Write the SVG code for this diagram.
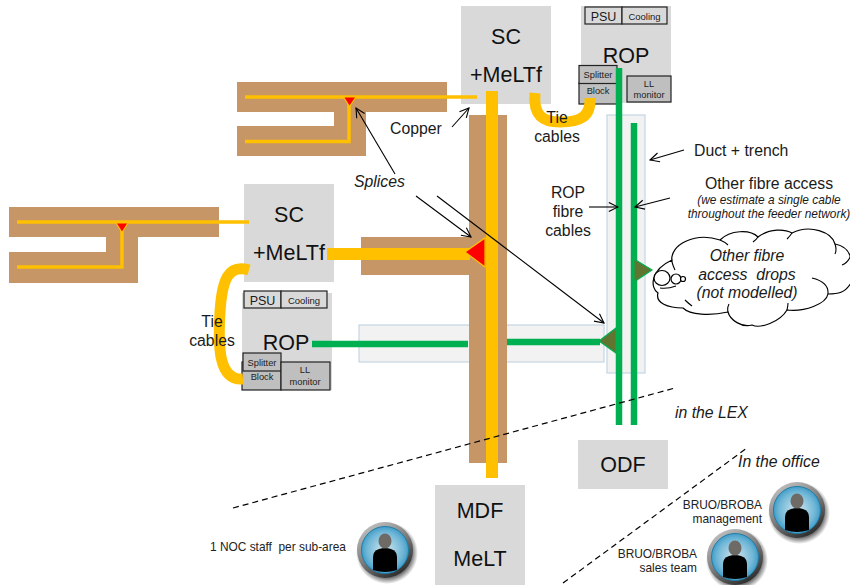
<svg xmlns="http://www.w3.org/2000/svg" width="850" height="585" viewBox="0 0 850 585">
<style>
text{font-family:"Liberation Sans",Arial,sans-serif;fill:#1a1a1a}
.l{font-size:15.8px}.i{font-style:italic}.c{text-anchor:middle}.e{text-anchor:end}
.big{font-size:21.5px;text-anchor:middle;fill:#111}
.s{font-size:11.9px;fill:#222}
.n{font-size:11.9px}
.box{fill:#d9d9d9}
.cu{fill:#c69667}
.of{fill:none;stroke:#ffc000;stroke-width:3.5}
.tie{fill:none;stroke:#ffc000;stroke-width:11}
.gr{stroke:#00b050;stroke-width:6.5;fill:none}
.duct{fill:#f2f2f2;stroke:#c5d5e3;stroke-width:1.2}
.part{fill:#bfbfbf;stroke:#222;stroke-width:1.2}
.pt{fill:#d9d9d9}
.ptxt{font-size:9.3px;text-anchor:middle;fill:#222}
.arr{stroke:#000;stroke-width:1.1;fill:none;marker-end:url(#open)}
.dash{stroke:#000;stroke-width:1.2;fill:none;stroke-dasharray:6 4}
.red{fill:#ff0000;stroke:#ffc000;stroke-width:1.2}
.ol{fill:#5f7530;stroke:#00b050;stroke-width:1.2}
.cl{fill:#fff;stroke:#000;stroke-width:1.2}
</style>
<defs>
<marker id="open" viewBox="0 0 12 12" refX="11" refY="6" markerWidth="11" markerHeight="11" markerUnits="userSpaceOnUse" orient="auto"><path d="M1 1L11 6L1 11" fill="none" stroke="#000" stroke-width="1.2"/></marker>
<linearGradient id="ring" x1="0.2" y1="0" x2="0.8" y2="1"><stop offset="0" stop-color="#c4c4c4"/><stop offset=".5" stop-color="#7a7a7a"/><stop offset="1" stop-color="#222"/></linearGradient>
<radialGradient id="face" cx=".5" cy=".5" r=".55"><stop offset="0" stop-color="#d5e8f0"/><stop offset=".7" stop-color="#6fb6d6"/><stop offset="1" stop-color="#2f93c4"/></radialGradient>
<radialGradient id="sh" cx=".5" cy=".5" r=".5"><stop offset=".8" stop-color="#000" stop-opacity=".55"/><stop offset="1" stop-color="#000" stop-opacity="0"/></radialGradient>
<g id="person">
<circle cx="2" cy="3" r="31" fill="url(#sh)"/>
<circle r="28" fill="url(#ring)"/>
<circle r="23.5" fill="url(#face)" stroke="#1f7fa8" stroke-width="1"/>
<path d="M-12 20V7Q-12 1-6 -1Q0 -3 6 -1Q12 1 12 7V20Q0 24 -12 20Z" fill="#000"/>
<ellipse cx="0" cy="-9" rx="6.5" ry="7.5" fill="#6e6a66"/>
</g>
</defs>

<g id="cable-top">
<path class="cu" d="M237 82H447V112H366V156H237V126H334V112H237Z"/>
</g>
<g id="cable-left">
<path class="cu" d="M9 207H219V237H138V283H9V252H106V237H9Z"/>
</g>
<g id="duct-v"><rect class="duct" x="607" y="115" width="38" height="258"/></g>
<g id="duct-h"><rect class="duct" x="359" y="325" width="245" height="37"/></g>
<g id="trunk">
<rect class="cu" x="469" y="115" width="38" height="348"/>
<rect class="cu" x="361" y="237" width="109" height="38"/>
</g>

<g id="sc-top"><rect class="box" x="461" y="6" width="90" height="98"/><text class="big" x="506" y="44">SC</text><text class="big" x="506" y="82">+MeLTf</text></g>
<g id="sc-left"><rect class="box" x="244" y="184" width="90" height="98"/><text class="big" x="289" y="222">SC</text><text class="big" x="289" y="260">+MeLTf</text></g>

<g id="rop-top">
<rect class="box" x="581" y="6" width="90" height="97"/>
<rect class="part pt" x="585" y="7" width="37" height="17"/><rect class="part pt" x="622" y="7" width="45" height="17"/>
<text class="c" style="font-size:12.5px" x="603.500" y="20.500">PSU</text><text class="c" style="font-size:9.500px" x="644.500" y="19.500">Cooling</text>
<text class="big" x="626" y="63">ROP</text>
<rect class="part" x="579" y="83" width="38" height="21"/><rect class="part" x="579" y="65.500" width="38" height="18"/>
<text class="ptxt" x="598" y="78">Splitter</text><text class="ptxt" x="598" y="94">Block</text>
<rect class="part" x="627" y="76" width="44" height="26"/>
<text class="ptxt" x="649" y="87">LL</text><text class="ptxt" x="649" y="98">monitor</text>
</g>
<g id="rop-left">
<rect class="box" x="242" y="293" width="90" height="97"/>
<rect class="part pt" x="244" y="291" width="37" height="17"/><rect class="part pt" x="281" y="291" width="46" height="17"/>
<text class="c" style="font-size:12.5px" x="262.500" y="304.500">PSU</text><text class="c" style="font-size:9.500px" x="304" y="303.500">Cooling</text>
<text class="big" x="286" y="350">ROP</text>
<rect class="part" x="242" y="362" width="39" height="28"/><rect class="part" x="243" y="353" width="38" height="18"/>
<text class="ptxt" x="262" y="366">Splitter</text><text class="ptxt" x="262" y="380">Block</text>
<rect class="part" x="281" y="362" width="49" height="28"/>
<text class="ptxt" x="305" y="373">LL</text><text class="ptxt" x="305" y="385">monitor</text>
</g>
<g id="mdf"><rect class="box" x="435" y="485" width="90" height="100"/><text class="big" x="480" y="518">MDF</text><text class="big" x="480" y="566">MeLT</text></g>
<g id="odf"><rect class="box" x="578" y="440" width="90" height="49"/><text class="big" x="623" y="472">ODF</text></g>

<g id="connectors">
<path class="of" d="M245 97H477M349 97V141.500H245"/>
<path class="of" d="M17 222H249M122 222V267H17"/>
<rect x="486" y="91" width="12" height="387" fill="#ffc000"/>
<rect x="327" y="248" width="143" height="12" fill="#ffc000"/>
<path class="tie" d="M535 93C533 116 543 122 560 122C580 122 591 117 590 98"/>
<path class="tie" d="M249 270C228 264 222 280 220 312C218 345 218 381 243 379"/>
<path class="gr" d="M619 68V425M634 123V425M312 344H468M507 342H600"/>
<path class="dash" d="M233 508L675 388"/>
<path class="dash" d="M563 583L747 448"/>
<path class="arr" d="M395 174L356 108"/>
<path class="arr" d="M416 196L471 237"/>
<path class="arr" d="M437 196L604 323"/>
<path class="arr" d="M452 127L469 108"/>
<path class="arr" d="M684 150L650 160"/>
<path class="arr" d="M589 207L618 207"/>
<path class="arr" d="M670 198L635 207"/>
<path class="red" d="M343.500 97H356L349.500 106.500Z"/>
<path class="red" d="M116 223H128L122 232.500Z"/>
<path class="red" d="M465 252L485 238V267Z"/>
<path class="ol" d="M599 341L616 328V353Z"/>
<path class="ol" d="M652 270L634 259V282Z"/>
</g>

<g id="cloud">
<path class="cl" d="M672 262C669 244 696 232 720 240C730 230 750 229 758 237C770 228 785 229 792 233C810 224 832 232 835 244C845 246 850 252 851 260V283C845 293 838 294 828 294C826 304 805 312 787 310C780 322 760 329 752 325C742 328 730 320 728 312C710 316 690 315 683 308C668 308 655 303 658 293C650 288 650 270 672 260Z"/>
<path d="M660 288Q668 289 676 286M692 306Q688 303 685 300M728 312Q727 308 729 304M787 310Q788 306 788 303M828 294Q829 282 812 278M842 265Q848 263 851 255M835 244Q837 250 835 254M792 233Q790 236 787 239M758 237Q756 240 753 242M720 240Q725 242 728 245M672 262Q673 266 675 270" fill="none" stroke="#000" stroke-width="1.100"/>
<ellipse class="cl" cx="662" cy="278" rx="8" ry="7.500"/>
<circle class="cl" cx="676" cy="279" r="5"/>
<circle class="cl" cx="683" cy="279" r="2.500"/>
<text class="l i c" x="747" y="261">Other fibre</text>
<text class="l i c" x="747" y="280" xml:space="preserve">access  drops</text>
<text class="l i c" x="747" y="298">(not modelled)</text>
</g>

<g id="labels">
<text class="l" x="390" y="134">Copper</text>
<text class="l i" x="354" y="187">Splices</text>
<text class="l c" x="557" y="123">Tie</text><text class="l c" x="557" y="142">cables</text>
<text class="l c" x="212" y="327">Tie</text><text class="l c" x="212" y="346">cables</text>
<text class="l" x="694" y="156">Duct + trench</text>
<text class="l c" x="769" y="189">Other fibre access</text>
<text class="i c n" x="769" y="204">(we estimate a single cable</text>
<text class="i c n" x="769" y="218">throughout the feeder network)</text>
<text class="l c" x="568" y="198">ROP</text><text class="l c" x="568" y="217">fibre</text><text class="l c" x="568" y="236">cables</text>
<text class="l i" x="675" y="418">in the LEX</text>
<text class="l i" x="738" y="467">In the office</text>
</g>

<g id="noc-staff"><use href="#person" x="385" y="550"/><text class="s" x="210" y="551" xml:space="preserve">1 NOC staff  per sub-area</text></g>
<g id="management"><use href="#person" x="797" y="510"/><text class="s e" x="762" y="509">BRUO/BROBA</text><text class="s e" x="762" y="523">management</text></g>
<g id="sales"><use href="#person" x="735" y="557"/><text class="s e" x="697" y="558">BRUO/BROBA</text><text class="s e" x="697" y="572">sales team</text></g>
</svg>
